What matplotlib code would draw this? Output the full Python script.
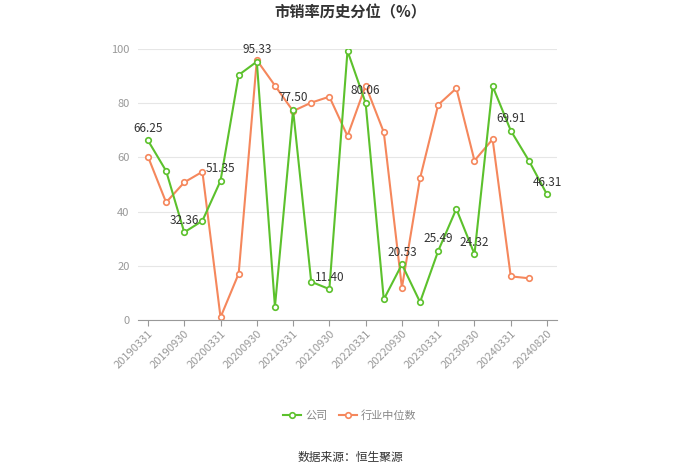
import matplotlib
matplotlib.use("Agg")
import matplotlib.pyplot as plt

plt.rcParams['font.family'] = ['Noto Sans CJK SC', 'DejaVu Sans']

# Data
dates = ["20190331", "20190630", "20190930", "20191231",
         "20200331", "20200630", "20200930", "20201231",
         "20210331", "20210630", "20210930", "20211231",
         "20220331", "20220630", "20220930", "20221231",
         "20230331", "20230630", "20230930", "20231231",
         "20240331", "20240630", "20240820"]
company = [66.25, 55.0, 32.36, 36.6, 51.35, 90.4, 95.33, 4.9,
           77.50, 14.1, 11.40, 99.3, 80.06, 7.6, 20.53, 6.6,
           25.49, 41.0, 24.32, 86.3, 69.91, 58.8, 46.31]
industry = [60.3, 43.4, 50.8, 54.7, 1.0, 17.1, 95.9, 86.5,
            77.1, 80.2, 82.4, 67.9, 86.5, 69.3, 11.9, 52.3,
            79.4, 85.5, 58.8, 66.7, 16.1, 15.4, None]

green = '#5cc12c'
orange = '#f5875c'

fig = plt.figure(figsize=(7, 4.74), dpi=100)
ax = fig.add_axes([138/700, 1-320/474, (557-138)/700, (320-49)/474])

x = list(range(len(dates)))
ind_x = [i for i, v in zip(x, industry) if v is not None]
ind_y = [v for v in industry if v is not None]

ax.plot(x, company, color=green, lw=1.5, marker='o', ms=4,
        mfc='white', mec=green, mew=1.2, label='公司', zorder=3)
ax.plot(ind_x, ind_y, color=orange, lw=1.5, marker='o', ms=4,
        mfc='white', mec=orange, mew=1.2, label='行业中位数', zorder=2)

# value labels on every other company point
for i in range(0, len(company), 2):
    ax.annotate(f"{company[i]:.2f}", (i, company[i]), xytext=(0, 4),
                textcoords='offset points', ha='center', va='bottom',
                fontsize=8.5, color='#333333', zorder=4)

ax.set_xlim(-0.55, len(dates) - 1 + 0.55)
ax.set_ylim(0, 100)
ax.set_yticks([0, 20, 40, 60, 80, 100])
ax.grid(axis='y', color='#e6e6e6', lw=0.8)
ax.set_axisbelow(True)

ticks = x[::2]
ax.set_xticks(ticks)
ax.set_xticklabels([dates[i] for i in ticks],
                   rotation=45, ha='right', rotation_mode='anchor')
ax.tick_params(axis='x', colors='#999999', labelsize=8, length=4, width=0.8, pad=2)
ax.tick_params(axis='y', colors='#999999', labelsize=8, length=0, pad=6)

for s in ['top', 'right', 'left']:
    ax.spines[s].set_visible(False)
ax.spines['bottom'].set_color('#999999')

fig.text(0.5, 1 - 12/474, '市销率历史分位（%）', ha='center', va='center',
         fontsize=11, fontweight='bold', color='#333333')

fig.legend(loc='center', bbox_to_anchor=(0.5, 1 - 416/474), ncol=2,
           frameon=False, fontsize=8, labelcolor='#888888',
           handlelength=1.6, columnspacing=1.0, handletextpad=0.4)

fig.text(0.5, 1 - 457/474, '数据来源：恒生聚源', ha='center', va='center',
         fontsize=8.5, color='#333333')

fig.savefig('out.png', dpi=100)
